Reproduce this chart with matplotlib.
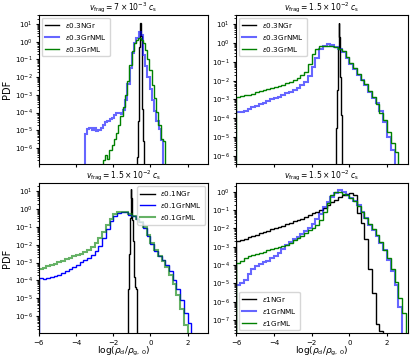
import numpy as np
import matplotlib
matplotlib.use("Agg")
import matplotlib.pyplot as plt

# ---------------- data (log10 PDF per bin) ----------------
titles = [r"$v_{\rm frag} = 7 \times 10^{-3}\ c_{\rm s}$",
          r"$v_{\rm frag} = 1.5 \times 10^{-2}\ c_{\rm s}$",
          r"$v_{\rm frag} = 1.5 \times 10^{-2}\ c_{\rm s}$",
          r"$v_{\rm frag} = 1.5 \times 10^{-2}\ c_{\rm s}$"]
labels_tl = [r"$\varepsilon$0.3NGr", r"$\varepsilon$0.3GrNML", r"$\varepsilon$0.3GrML"]
labels_tr = [r"$\varepsilon$0.3NGr", r"$\varepsilon$0.3GrNML", r"$\varepsilon$0.3GrML"]
labels_bl = [r"$\varepsilon$0.1NGr", r"$\varepsilon$0.1GrNML", r"$\varepsilon$0.1GrML"]
labels_br = [r"$\varepsilon$1NGr", r"$\varepsilon$1GrNML", r"$\varepsilon$1GrML"]

# top-left
tl_ngr_start, tl_ngr_width = -0.71, 0.04
tl_ngr = [-6.5, -4.5, -2.5, -0.3, 1.05, 0.3, -1.8, -3.8, -5.6, -7.5]
tl_nml_start, tl_nml_width = -3.52, 0.12
tl_nml = [-5.19, -4.95, -4.85, -5.0, -4.85, -5.05, -5.0, -4.85, -4.7, -4.55,
          -4.45, -4.35, -4.3, -4.15, -4.0, -4.05, -4.1, -3.85, -3.3, -2.4,
          -1.5, -0.65, -0.1, 0.2, 0.55, 0.35, -0.75, -1.35, -2.0, -2.65,
          -3.3, -3.9, -4.45, -4.95, -5.55]
tl_ml_start, tl_ml_width = -2.57, 0.12
tl_ml = [-6.7, -6.4, -6.6, -6.1, -5.85, -5.5, -5.15, -4.7, -4.2, -3.7,
         -3.0, -2.2, -1.3, -0.55, -0.05, 0.12, 0.18, 0.1, -0.1, -0.45,
         -0.95, -1.6, -2.45, -3.2, -3.95, -4.7, -5.5, -5.6]

# top-right
tr_ngr_start, tr_ngr_width = -0.73, 0.04
tr_ngr = [-6.5, -4.5, -2.5, -0.3, 1.05, 0.3, -1.8, -3.8, -5.6, -7.5]
tr_nml_start, tr_nml_width = -6.0, 0.2
tr_nml = [-3.67, -3.68, -3.6, -3.5, -3.4, -3.33, -3.25, -3.17, -3.08, -3.0,
          -2.93, -2.85, -2.76, -2.68, -2.58, -2.48, -2.37, -2.25, -2.08, -1.75,
          -1.3, -0.8, -0.35, -0.15, -0.06, -0.1, -0.2, -0.33, -0.5, -0.8,
          -1.1, -1.4, -1.7, -1.95, -2.25, -2.6, -2.9, -3.2, -3.6, -4.2,
          -5.0, -5.7]
tr_ml_start, tr_ml_width = -6.0, 0.2
tr_ml = [-2.86, -2.82, -2.78, -2.74, -2.69, -2.63, -2.57, -2.51, -2.45, -2.39,
         -2.33, -2.27, -2.21, -2.15, -2.08, -1.98, -1.86, -1.72, -1.55, -1.1,
         -0.6, -0.3, -0.17, -0.15, -0.15, -0.18, -0.22, -0.32, -0.45, -0.75,
         -1.05, -1.35, -1.65, -1.95, -2.2, -2.55, -2.85, -3.25, -3.7, -4.1,
         -4.7, -5.3, -5.8]

# bottom-left
bl_ngr_start, bl_ngr_width = -1.22, 0.04
bl_ngr = [-6.6, -4.5, -2.5, -0.5, 1.1, 0.6, -0.6, -1.8, -2.9, -3.8, -4.35, -4.5]
bl_nml_start, bl_nml_width = -6.0, 0.2
bl_nml = [-3.86, -3.9, -3.88, -3.83, -3.76, -3.68, -3.58, -3.48, -3.36, -3.24,
          -3.12, -2.98, -2.85, -2.72, -2.57, -2.38, -2.1, -1.65, -1.15, -0.7,
          -0.38, -0.22, -0.16, -0.2, -0.32, -0.42, -0.55, -0.75, -1.05, -1.5,
          -1.95, -2.35, -2.65, -2.85, -3.15, -3.5, -4.0, -4.5, -5.1, -5.8,
          -6.4]
bl_ml_start, bl_ml_width = -6.0, 0.2
bl_ml = [-3.38, -3.3, -3.22, -3.14, -3.06, -2.98, -2.9, -2.82, -2.74, -2.66,
         -2.58, -2.5, -2.4, -2.28, -2.12, -1.92, -1.62, -1.28, -0.9, -0.55,
         -0.3, -0.2, -0.15, -0.18, -0.28, -0.4, -0.55, -0.72, -1.0, -1.45,
         -1.9, -2.3, -2.65, -2.9, -3.25, -3.7, -4.2, -4.8, -5.6, -6.5]

# bottom-right
br_ngr_start, br_ngr_width = -6.0, 0.2
br_ngr = [-2.68, -2.62, -2.55, -2.48, -2.41, -2.34, -2.27, -2.2, -2.12, -2.05,
          -1.98, -1.91, -1.84, -1.77, -1.7, -1.62, -1.54, -1.46, -1.37, -1.28,
          -1.18, -1.08, -0.97, -0.86, -0.73, -0.58, -0.44, -0.3, -0.18, -0.1,
          -0.06, -0.15, -1.15, -1.7, -2.6, -4.2, -5.5, -7.2, -7.6]
br_nml_start, br_nml_width = -6.0, 0.2
br_nml = [-5.08, -4.95, -4.8, -4.5, -4.2, -4.05, -3.95, -3.85, -3.75, -3.62,
          -3.5, -3.35, -3.1, -2.9, -2.75, -2.6, -2.45, -2.3, -2.12, -1.95,
          -1.75, -1.5, -1.2, -0.85, -0.55, -0.3, -0.05, 0.08, -0.02, -0.2,
          -0.35, -0.5, -0.7, -1.1, -1.45, -1.8, -2.1, -2.4, -2.8, -3.2,
          -3.7, -4.3, -5.1, -6.3]
br_ml_start, br_ml_width = -6.0, 0.2
br_ml = [-3.88, -3.75, -3.62, -3.52, -3.45, -3.39, -3.33, -3.27, -3.2, -3.14,
         -3.08, -3.02, -2.96, -2.9, -2.78, -2.65, -2.52, -2.4, -2.25, -2.1,
         -1.95, -1.8, -1.55, -1.1, -0.6, -0.2, 0.0, -0.02, -0.1, -0.2,
         -0.35, -0.52, -0.75, -1.1, -1.45, -1.75, -2.05, -2.35, -2.75, -3.15,
         -3.6, -4.2, -4.9, -5.8, -6.6]

ylims = [(1.26e-7, 32), (3.8e-7, 30), (1.1e-7, 27), (1.9e-8, 2.9)]
xlim = (-6, 3.1)

# ---------------- figure ----------------
plt.rcParams['font.size'] = 5
fig = plt.figure(figsize=(4.13, 3.62), dpi=100)

W, H = 413, 362
def rect(l, r, t, b):
    return [l / W, 1 - b / H, (r - l) / W, (b - t) / H]

axes = [fig.add_axes(rect(38.9, 208.0, 15, 164)),
        fig.add_axes(rect(236.2, 407.7, 15, 164)),
        fig.add_axes(rect(38.9, 208.0, 183.3, 333.3)),
        fig.add_axes(rect(236.2, 407.7, 183.3, 333.3))]

panels = [
    (tl_ngr_start, tl_ngr_width, tl_ngr, tl_nml_start, tl_nml_width, tl_nml,
     tl_ml_start, tl_ml_width, tl_ml, labels_tl, 'upper left', 'nml'),
    (tr_ngr_start, tr_ngr_width, tr_ngr, tr_nml_start, tr_nml_width, tr_nml,
     tr_ml_start, tr_ml_width, tr_ml, labels_tr, 'upper left', 'nml'),
    (bl_ngr_start, bl_ngr_width, bl_ngr, bl_nml_start, bl_nml_width, bl_nml,
     bl_ml_start, bl_ml_width, bl_ml, labels_bl, 'upper right', 'ml'),
    (br_ngr_start, br_ngr_width, br_ngr, br_nml_start, br_nml_width, br_nml,
     br_ml_start, br_ml_width, br_ml, labels_br, 'lower left', 'nml'),
]

def draw(ax, start, width, logvals, **kw):
    vals = 10.0 ** np.asarray(logvals)
    edges = start + width * np.arange(len(vals) + 1)
    return ax.stairs(vals, edges, baseline=1e-12, fill=False, **kw)

for i, (ax, p) in enumerate(zip(axes, panels)):
    (s0, w0, v0, s1, w1, v1, s2, w2, v2, labs, loc, light) = p
    ax.set_yscale('log')
    faint = dict(alpha=0.6, linewidth=1.5)
    solid = dict(alpha=1.0, linewidth=1.0)
    h0 = draw(ax, s0, w0, v0, color='black', linewidth=1.0, label=labs[0])
    h1 = draw(ax, s1, w1, v1, color='blue', label=labs[1],
              **(faint if light == 'nml' else solid))
    h2 = draw(ax, s2, w2, v2, color='green', label=labs[2],
              **(faint if light == 'ml' else solid))
    ax.set_xlim(*xlim)
    ax.set_ylim(*ylims[i])
    ax.set_xticks([-6, -4, -2, 0, 2])
    ax.set_title(titles[i], fontsize=5.5, pad=2.5)
    ax.tick_params(labelsize=5, length=2.5, pad=2)
    ax.tick_params(which='minor', length=1.5)
    if i < 2:
        ax.tick_params(labelbottom=False)
    else:
        ax.set_xlabel(r"$\log(\rho_{\rm d}/\rho_{\rm g,\,0})$", fontsize=6.5, labelpad=-0.5)
    if i % 2 == 0:
        ax.set_ylabel("PDF", fontsize=7, labelpad=2)
    ax.legend(handles=[h0, h1, h2], loc=loc, fontsize=5.2, handlelength=2.0,
              borderaxespad=0.4, labelspacing=0.4)

fig.savefig("out.png", dpi=100)
